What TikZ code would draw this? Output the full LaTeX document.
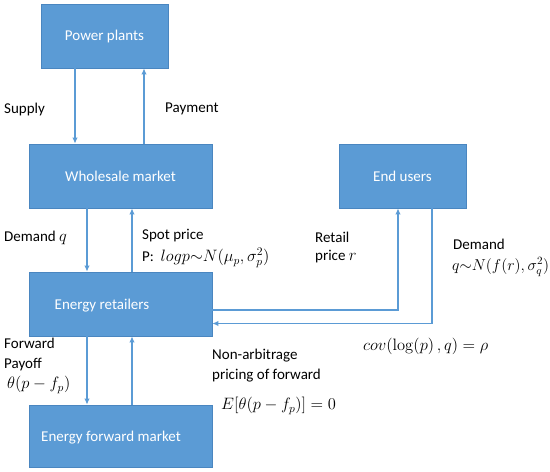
\documentclass[tikz,border=0pt]{standalone}
\usepackage{fix-cm}
\usepackage[no-math]{fontspec}
\setmainfont{Carlito}
\usetikzlibrary{arrows.meta}
\definecolor{boxfill}{HTML}{5B9BD5}
\definecolor{boxline}{HTML}{4A86C0}
\definecolor{arrcol}{HTML}{5B9BD5}
\newcommand{\mth}[1]{{\fontsize{16.5pt}{20pt}\selectfont$#1$}}
\newcommand{\mths}[1]{{\fontsize{15.8pt}{19pt}\selectfont$#1$}}
\begin{document}
\begin{tikzpicture}[x=1pt,y=-1pt,
  box/.style={draw=boxline,line width=0.8pt,fill=boxfill,minimum height=64pt,inner sep=0pt,text=white},
  arr/.style={draw=arrcol,line width=1.4pt,-{Latex[length=6pt,width=5.5pt]}},
  lab/.style={anchor=west,inner sep=0pt,text=black},
  every node/.style={font=\fontsize{15pt}{18pt}\selectfont}]
\useasboundingbox (0,0) rectangle (550,472);
% boxes
\node[box,minimum width=127pt] (pp) at (104.5,36) {Power plants};
\node[box,minimum width=183pt] (wm) at (120.5,176) {Wholesale market};
\node[box,minimum width=183pt] (er) at (120.5,304) {};
\node[text=white,inner sep=0pt] (ert) at (102,306) {Energy retailers};
\node[box,minimum width=183pt,minimum height=62pt] (efm) at (120.5,436) {};
\node[text=white,inner sep=0pt] (efmt) at (111,438) {Energy forward market};
\node[box,minimum width=127pt] (eu) at (402.5,176) {End users};
% guide coordinates
\coordinate (xa) at (75,0);
\coordinate (xb) at (144,0);
\coordinate (xc) at (87,0);
\coordinate (xd) at (132,0);
\coordinate (xr) at (398,0);
\coordinate (xs) at (432,0);
\coordinate (yr) at (0,310);
\coordinate (ys) at (0,323.5);
% arrows
\draw[arr] (pp.south -| xa) -- (wm.north -| xa);
\draw[arr] (wm.north -| xb) -- (pp.south -| xb);
\draw[arr] (wm.south -| xc) -- (er.north -| xc);
\draw[arr] (er.north -| xd) -- (wm.south -| xd);
\draw[arr] (er.south -| xc) -- (efm.north -| xc);
\draw[arr] (efm.north -| xd) -- (er.south -| xd);
\coordinate (r1) at (xr |- yr);
\coordinate (s1) at (xs |- ys);
\draw[arr] (er.east |- yr) -- (r1) -- (eu.south -| xr);
\draw[arr] (eu.south -| xs) -- (s1) -- (er.east |- ys);
% labels
\node[lab] (l1) at (4,109) {Supply};
\node[lab] (l2) at (165,109) {Payment};
\node[lab] (l3) at (4,238) {Demand \mth{q}};
\node[lab] (l4) at (142,235.5) {Spot price};
\node[lab] (l5) at (142,258) {P:\ \ \mth{logp{\sim}N(\mu_p,\sigma_p^2)}};
\node[lab] (l6) at (315,237) {Retail};
\node[lab] (l7) at (315,257) {price \mth{r}};
\node[lab] (l8) at (453,244.5) {Demand};
\node[lab] (l9) at (452,267) {\mths{q{\sim}N(f(r),\sigma_q^2)}};
\node[lab] (l10) at (363,346) {\mth{cov(\log(p)\,,q)=\rho}};
\node[lab] (l11) at (4,343) {Forward};
\node[lab] (l12) at (4,365) {Payoff};
\node[lab] (l13) at (7,385) {\mth{\theta(p-f_p)}};
\node[lab] (l14) at (212,356) {Non-arbitrage};
\node[lab] (l15) at (212,376) {pricing of forward};
\node[lab] (l16) at (221,406) {\mth{E\bigl[\theta(p-f_p)\bigr]=0}};
\end{tikzpicture}
\end{document}
